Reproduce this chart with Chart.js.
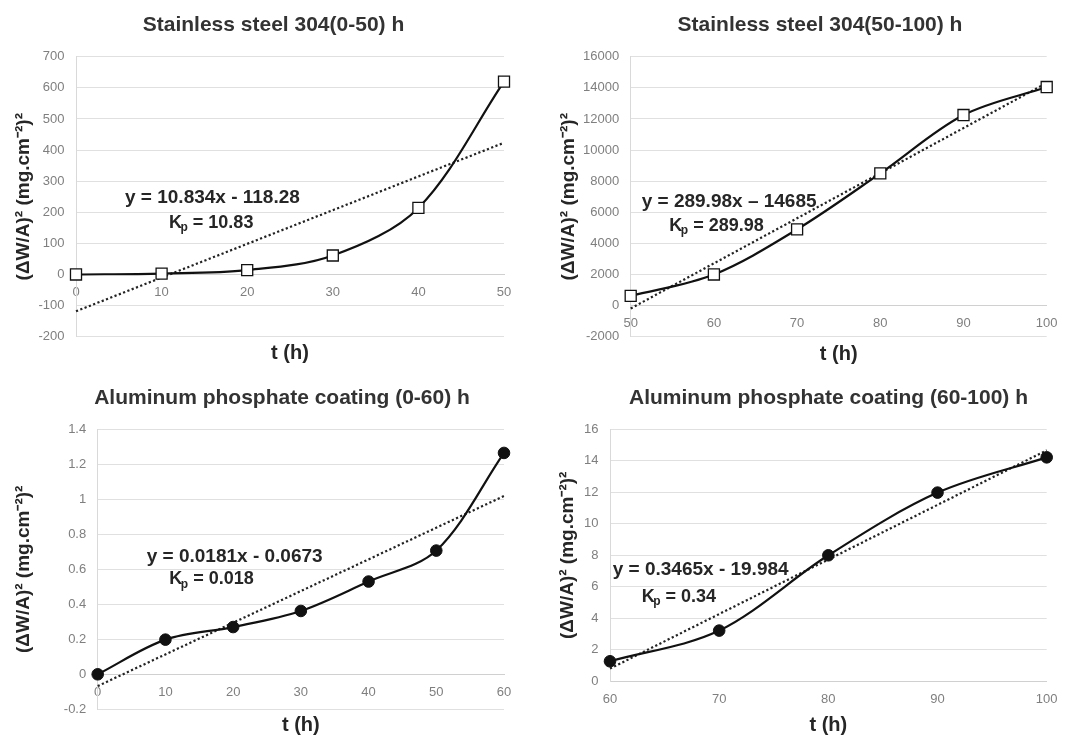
<!DOCTYPE html>
<html>
<head>
<meta charset="utf-8">
<script src="https://cdn.jsdelivr.net/npm/chart.js@4/dist/chart.umd.min.js"></script>
<style>
html,body{margin:0;padding:0;background:#fff;overflow:hidden;width:1069px;height:736px;position:relative}
canvas{position:absolute;display:block}
</style>
</head>
<body>
<canvas id="c1" width="547" height="370" style="left:0;top:0"></canvas>
<canvas id="c2" width="570" height="370" style="left:535px;top:0"></canvas>
<canvas id="c3" width="564" height="366" style="left:0;top:370px"></canvas>
<canvas id="c4" width="587" height="366" style="left:535px;top:370px"></canvas>
<script>
// ---------- DATA ----------
const titles = [
  'Stainless steel 304(0-50) h',
  'Stainless steel 304(50-100) h',
  'Aluminum phosphate coating (0-60) h',
  'Aluminum phosphate coating (60-100) h'
];
const xAxisTitle = 't (h)';
const yAxisTitle = '(\u0394W/A)\u00B2 (mg.cm\u207B\u00B2)\u00B2';

const timeSS1 = [0, 10, 20, 30, 40, 50];
const gainSS1 = [0, 3, 14, 61, 214, 620];
const trendTimeSS1 = [0, 50];
const trendSS1 = [-118.28, 423.42];

const timeSS2 = [50, 60, 70, 80, 90, 100];
const gainSS2 = [620, 2000, 4900, 8500, 12250, 14050];
const trendTimeSS2 = [50, 100];
const trendSS2 = [-186, 14313];

const timeAP1 = [0, 10, 20, 30, 40, 50, 60];
const gainAP1 = [0, 0.198, 0.27, 0.362, 0.53, 0.707, 1.265];
const trendTimeAP1 = [0, 60];
const trendAP1 = [-0.0673, 1.0187];

const timeAP2 = [60, 70, 80, 90, 100];
const gainAP2 = [1.27, 3.22, 8.0, 11.98, 14.22];
const trendTimeAP2 = [60, 100];
const trendAP2 = [0.806, 14.666];

// axis ranges: [min, max, step]
const xAxisSS1 = [0, 50, 10];   const yAxisSS1 = [-200, 700, 100];
const xAxisSS2 = [50, 100, 10]; const yAxisSS2 = [-2000, 16000, 2000];
const xAxisAP1 = [0, 60, 10];   const yAxisAP1 = [-0.2, 1.4, 0.2];
const xAxisAP2 = [60, 100, 10]; const yAxisAP2 = [0, 16, 2];

const equations = ['y = 10.834x - 118.28', 'y = 289.98x \u2013 14685', 'y = 0.0181x - 0.0673', 'y = 0.3465x - 19.984'];
const kpValues = ['10.83', '289.98', '0.018', '0.34'];

// ---------- LAYOUT / STYLE ----------
const FONT = '"Liberation Sans", Arial, Helvetica, sans-serif';
const layouts = [
  {plotLeft: 76,   gapRight: 43,   titlePad: [12.4, 19.1], xTitlePad: [6.3, 7],   yTitlePad: 12.6, eqPos: [125, 198],   kpPos: [169, 223]},
  {plotLeft: 95.7, gapRight: 58.3, titlePad: [12.4, 19.1], xTitlePad: [7.6, 5.7], yTitlePad: 22.6, eqPos: [106.7, 201.7], kpPos: [134.3, 226]},
  {plotLeft: 97.7, gapRight: 60,   titlePad: [15.7, 18.4], xTitlePad: [5.7, 1],   yTitlePad: 12.6, eqPos: [146.7, 186.7], kpPos: [169.3, 209.3]},
  {plotLeft: 75,   gapRight: 75.3, titlePad: [15.7, 18.4], xTitlePad: [33.7, 1],  yTitlePad: 21.1, eqPos: [77.7, 200],   kpPos: [106.7, 226.7]}
];

const panels = [
  {id: 'c1', t: timeSS1, g: gainSS1, tt: trendTimeSS1, tg: trendSS1, xa: xAxisSS1, ya: yAxisSS1, marker: 'rect'},
  {id: 'c2', t: timeSS2, g: gainSS2, tt: trendTimeSS2, tg: trendSS2, xa: xAxisSS2, ya: yAxisSS2, marker: 'rect'},
  {id: 'c3', t: timeAP1, g: gainAP1, tt: trendTimeAP1, tg: trendAP1, xa: xAxisAP1, ya: yAxisAP1, marker: 'circle'},
  {id: 'c4', t: timeAP2, g: gainAP2, tt: trendTimeAP2, tg: trendAP2, xa: xAxisAP2, ya: yAxisAP2, marker: 'circle'}
];

const eqPlugin = {
  id: 'eqLabel',
  afterDatasetsDraw(chart, args, opts) {
    const ctx = chart.ctx;
    ctx.save();
    ctx.fillStyle = '#262626';
    ctx.textBaseline = 'middle';
    ctx.textAlign = 'left';
    ctx.font = 'bold 19px ' + FONT;
    ctx.fillText(opts.eq, opts.eqPos[0], opts.eqPos[1]);
    let x = opts.kpPos[0], y = opts.kpPos[1];
    ctx.font = 'bold 18px ' + FONT;
    ctx.fillText('K', x, y);
    x += ctx.measureText('K').width - 1.5;
    ctx.font = 'bold 12px ' + FONT;
    ctx.fillText('p', x, y + 5);
    x += ctx.measureText('p').width;
    ctx.font = 'bold 18px ' + FONT;
    ctx.fillText(' = ' + opts.kp, x, y);
    ctx.restore();
  }
};

const tickFmt = v => String(Math.round(v * 10000) / 10000);

panels.forEach((p, i) => {
  const L = layouts[i];
  const isRect = p.marker === 'rect';
  new Chart(document.getElementById(p.id), {
    type: 'line',
    data: {
      datasets: [
        {
          data: p.t.map((t, k) => ({x: t, y: p.g[k]})),
          xAxisID: 'x', yAxisID: 'y',
          borderColor: '#111',
          borderWidth: 2.2,
          tension: 0.33,
          fill: false,
          clip: false,
          pointStyle: isRect ? 'rect' : 'circle',
          pointRadius: isRect ? 7.8 : 5.8,
          pointBorderWidth: isRect ? 1.3 : 1,
          pointBorderColor: '#111',
          pointBackgroundColor: isRect ? '#fff' : '#111'
        },
        {
          data: p.tt.map((t, k) => ({x: t, y: p.tg[k]})),
          xAxisID: 'x', yAxisID: 'y',
          borderColor: '#222',
          borderWidth: 2.2,
          borderDash: [2.2, 2.4],
          tension: 0,
          pointRadius: 0,
          fill: false,
          clip: false
        }
      ]
    },
    options: {
      responsive: false,
      animation: false,
      devicePixelRatio: 1,
      layout: {padding: 0},
      plugins: {
        legend: {display: false},
        tooltip: {enabled: false},
        title: {
          display: true,
          text: titles[i],
          color: '#333',
          font: {family: FONT, size: 21, weight: 'bold', lineHeight: 1.2},
          padding: {top: L.titlePad[0], bottom: L.titlePad[1]}
        },
        eqLabel: {eq: equations[i], kp: kpValues[i], eqPos: L.eqPos, kpPos: L.kpPos}
      },
      scales: {
        x: {
          type: 'linear', axis: 'x',
          position: {y: 0},
          min: p.xa[0], max: p.xa[1],
          ticks: {stepSize: p.xa[2], padding: 10.2, color: '#7f7f7f', font: {family: FONT, size: 13}, callback: tickFmt, maxRotation: 0},
          grid: {display: false, drawTicks: false},
          border: {display: true, color: '#d0d0d0', width: 1}
        },
        xt: {
          type: 'linear', axis: 'x', position: 'bottom',
          min: p.xa[0], max: p.xa[1],
          ticks: {display: false},
          grid: {display: false, drawTicks: false},
          border: {display: false},
          title: {display: true, text: xAxisTitle, color: '#262626', font: {family: FONT, size: 20, weight: 'bold', lineHeight: 1}, padding: {top: L.xTitlePad[0], bottom: L.xTitlePad[1]}}
        },
        y: {
          type: 'linear', position: 'left',
          min: p.ya[0], max: p.ya[1],
          ticks: {stepSize: p.ya[2], padding: 11.5, color: '#7f7f7f', font: {family: FONT, size: 13}, callback: tickFmt},
          grid: {color: '#e0e0e0', lineWidth: 1, drawTicks: false},
          border: {display: true, color: '#d9d9d9', width: 1},
          title: {display: true, text: yAxisTitle, color: '#262626', font: {family: FONT, size: 19, weight: 'bold', lineHeight: 1.2}, padding: {top: L.yTitlePad, bottom: 0}},
          afterFit: s => { s.width = L.plotLeft; }
        },
        yr: {
          type: 'linear', axis: 'y', position: 'right', display: true,
          min: 0, max: 1,
          ticks: {display: false},
          grid: {display: false, drawTicks: false},
          border: {display: false},
          afterFit: s => { s.width = L.gapRight; }
        }
      }
    },
    plugins: [eqPlugin]
  });
});
</script>
</body>
</html>
